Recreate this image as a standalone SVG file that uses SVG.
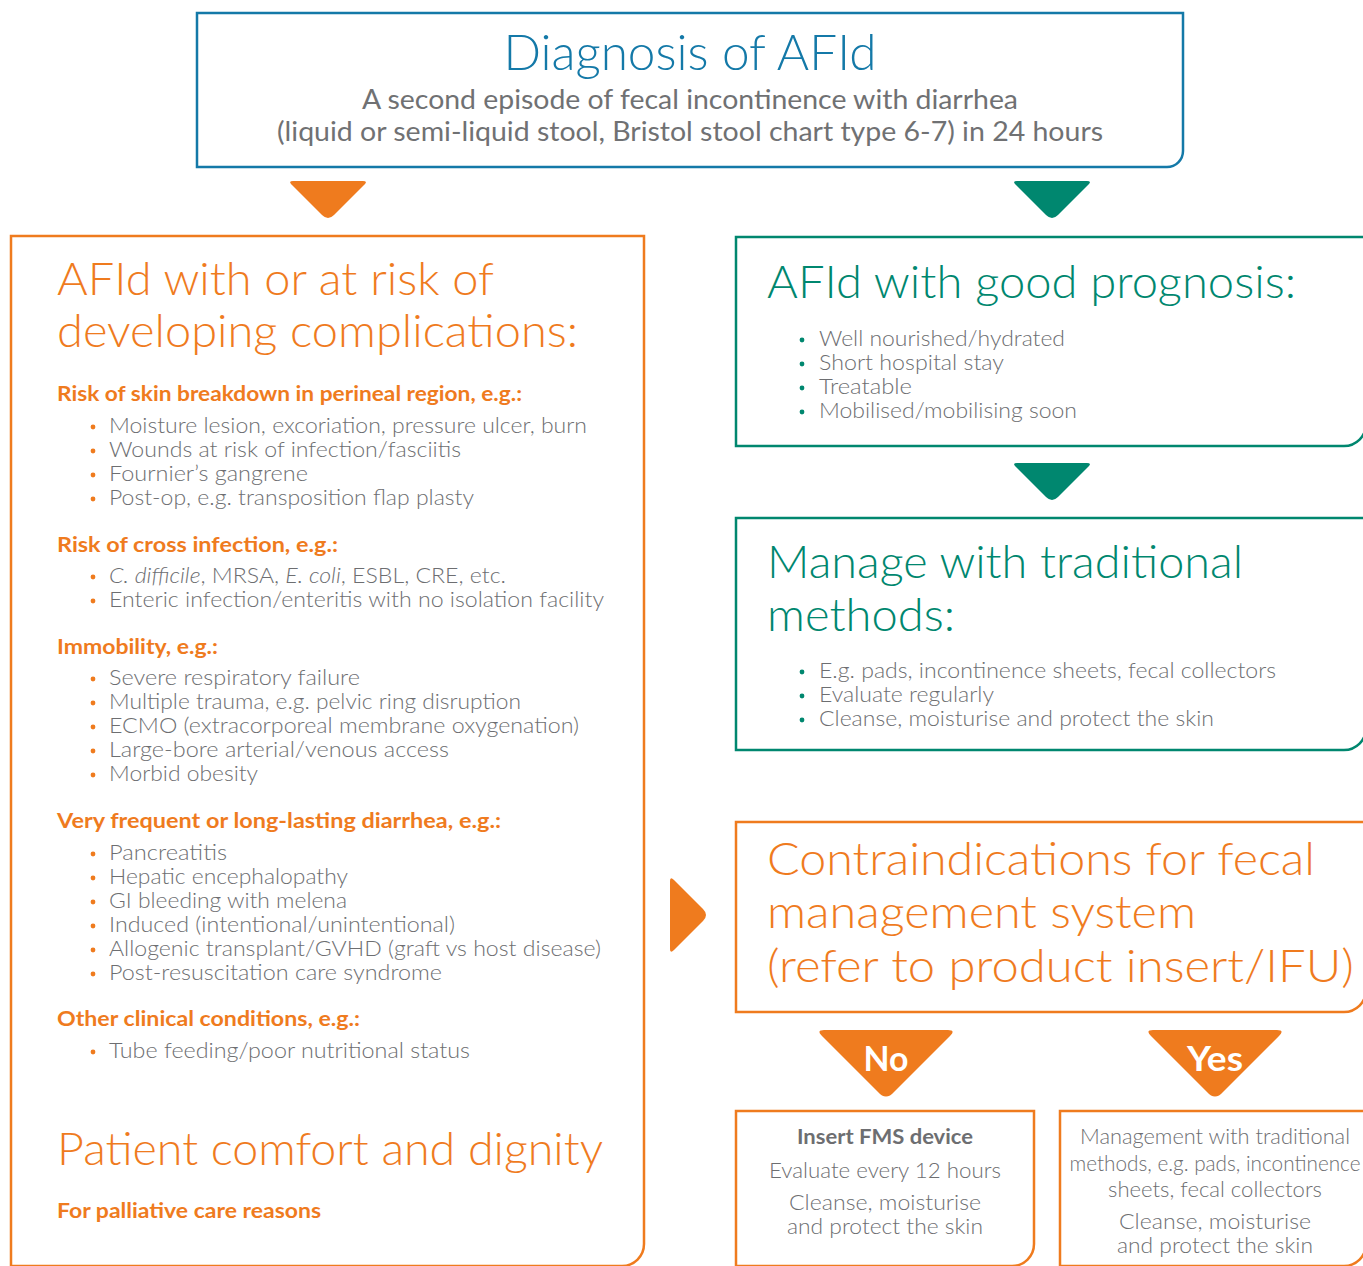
<svg xmlns="http://www.w3.org/2000/svg" width="1363" height="1266" viewBox="0 0 1363 1266">
<style>
  text { font-family: Lato, "Open Sans", "Liberation Sans", sans-serif; }
  .box { fill: none; stroke-width: 2.5; }
  .blue { stroke: #1479a8; }
  .teal { stroke: #00876f; }
  .orange { stroke: #ef7b1e; }
  .ttl-b { fill: #1479a8; font-size: 50px; font-weight: 300; }
  .sub { fill: #707173; font-size: 26px; font-weight: 400; }
  .ttl-o { fill: #ef7b1e; font-size: 46px; font-weight: 300; }
  .ttl-t { fill: #00876f; font-size: 46px; font-weight: 300; }
  .hd { fill: #ef7b1e; font-size: 20px; font-weight: 700; }
  .li { fill: #6d6e71; font-size: 21px; font-weight: 300; }
  .sm { fill: #6d6e71; font-size: 21px; font-weight: 300; text-anchor: middle; }
  .smb { fill: #6d6e71; font-size: 20px; font-weight: 700; text-anchor: middle; }
  .yn { fill: #ffffff; font-size: 34px; font-weight: 700; text-anchor: middle; }
  .dot-o { fill: #ef7b1e; }
  .dot-t { fill: #00876f; }
  .arr-o { fill: #ef7b1e; }
  .arr-t { fill: #00876f; }
</style>

<g id="connectors">
  <path class="arr-o" d="M293,181 H363 Q368,181 364.5,184.5 L334,215 Q328,221 322,215 L291.5,184.5 Q288,181 293,181 Z"/>
  <path class="arr-t" d="M1017,181 H1087 Q1092,181 1088.5,184.5 L1058,215 Q1052,221 1046,215 L1015.5,184.5 Q1012,181 1017,181 Z"/>
  <path class="arr-t" d="M1017,463 H1087 Q1092,463 1088.5,466.5 L1058,497 Q1052,503 1046,497 L1015.5,466.5 Q1012,463 1017,463 Z"/>
  <path class="arr-o" d="M670,881 Q670,876 674,880 L703,909 Q709,915 703,921 L674,950 Q670,954 670,949 Z"/>
</g>

<g id="diagnosis">
  <path class="box blue" d="M197,13 H1183 V151 A16,16 0 0 1 1167,167 H197 Z"/>
  <text class="ttl-b" x="690" y="70" text-anchor="middle" textLength="373" lengthAdjust="spacingAndGlyphs">Diagnosis of AFId</text>
  <text class="sub" x="690" y="109" text-anchor="middle" textLength="656" lengthAdjust="spacingAndGlyphs">A second episode of fecal incontinence with diarrhea</text>
  <text class="sub" x="690" y="141" text-anchor="middle" textLength="826" lengthAdjust="spacingAndGlyphs">(liquid or semi-liquid stool, Bristol stool chart type 6-7) in 24 hours</text>
</g>

<g id="complications">
  <path class="box orange" d="M11,236 H644 V1244 A22,22 0 0 1 622,1266 H11 Z"/>
  <text class="ttl-o" x="57" y="295" textLength="437" lengthAdjust="spacingAndGlyphs">AFId with or at risk of</text>
  <text class="ttl-o" x="57" y="347" textLength="521" lengthAdjust="spacingAndGlyphs">developing complications:</text>

  <text class="hd" x="57" y="401" textLength="465" lengthAdjust="spacingAndGlyphs">Risk of skin breakdown in perineal region, e.g.:</text>
  <circle class="dot-o" cx="93" cy="427" r="2.4"/>
  <circle class="dot-o" cx="93" cy="451" r="2.4"/>
  <circle class="dot-o" cx="93" cy="475" r="2.4"/>
  <circle class="dot-o" cx="93" cy="499" r="2.4"/>
  <text class="li" x="109" y="433" textLength="478" lengthAdjust="spacingAndGlyphs">Moisture lesion, excoriation, pressure ulcer, burn</text>
  <text class="li" x="109" y="457" textLength="352" lengthAdjust="spacingAndGlyphs">Wounds at risk of infection/fasciitis</text>
  <text class="li" x="109" y="481" textLength="199" lengthAdjust="spacingAndGlyphs">Fournier’s gangrene</text>
  <text class="li" x="109" y="505" textLength="365" lengthAdjust="spacingAndGlyphs">Post-op, e.g. transposition flap plasty</text>

  <text class="hd" x="57" y="552" textLength="281" lengthAdjust="spacingAndGlyphs">Risk of cross infection, e.g.:</text>
  <circle class="dot-o" cx="93" cy="577" r="2.4"/>
  <circle class="dot-o" cx="93" cy="601" r="2.4"/>
  <text class="li" x="109" y="583" textLength="397" lengthAdjust="spacingAndGlyphs"><tspan font-style="italic">C. difficile</tspan>, MRSA, <tspan font-style="italic">E. coli</tspan>, ESBL, CRE, etc.</text>
  <text class="li" x="109" y="607" textLength="495" lengthAdjust="spacingAndGlyphs">Enteric infection/enteritis with no isolation facility</text>

  <text class="hd" x="57" y="654" textLength="161" lengthAdjust="spacingAndGlyphs">Immobility, e.g.:</text>
  <circle class="dot-o" cx="93" cy="679" r="2.4"/>
  <circle class="dot-o" cx="93" cy="703" r="2.4"/>
  <circle class="dot-o" cx="93" cy="727" r="2.4"/>
  <circle class="dot-o" cx="93" cy="751" r="2.4"/>
  <circle class="dot-o" cx="93" cy="775" r="2.4"/>
  <text class="li" x="109" y="685" textLength="251" lengthAdjust="spacingAndGlyphs">Severe respiratory failure</text>
  <text class="li" x="109" y="709" textLength="412" lengthAdjust="spacingAndGlyphs">Multiple trauma, e.g. pelvic ring disruption</text>
  <text class="li" x="109" y="733" textLength="470" lengthAdjust="spacingAndGlyphs">ECMO (extracorporeal membrane oxygenation)</text>
  <text class="li" x="109" y="757" textLength="340" lengthAdjust="spacingAndGlyphs">Large-bore arterial/venous access</text>
  <text class="li" x="109" y="781" textLength="149" lengthAdjust="spacingAndGlyphs">Morbid obesity</text>

  <text class="hd" x="57" y="828" textLength="444" lengthAdjust="spacingAndGlyphs">Very frequent or long-lasting diarrhea, e.g.:</text>
  <circle class="dot-o" cx="93" cy="854" r="2.4"/>
  <circle class="dot-o" cx="93" cy="878" r="2.4"/>
  <circle class="dot-o" cx="93" cy="902" r="2.4"/>
  <circle class="dot-o" cx="93" cy="926" r="2.4"/>
  <circle class="dot-o" cx="93" cy="950" r="2.4"/>
  <circle class="dot-o" cx="93" cy="974" r="2.4"/>
  <text class="li" x="109" y="860" textLength="118" lengthAdjust="spacingAndGlyphs">Pancreatitis</text>
  <text class="li" x="109" y="884" textLength="239" lengthAdjust="spacingAndGlyphs">Hepatic encephalopathy</text>
  <text class="li" x="109" y="908" textLength="238" lengthAdjust="spacingAndGlyphs">GI bleeding with melena</text>
  <text class="li" x="109" y="932" textLength="346" lengthAdjust="spacingAndGlyphs">Induced (intentional/unintentional)</text>
  <text class="li" x="109" y="956" textLength="492" lengthAdjust="spacingAndGlyphs">Allogenic transplant/GVHD (graft vs host disease)</text>
  <text class="li" x="109" y="980" textLength="333" lengthAdjust="spacingAndGlyphs">Post-resuscitation care syndrome</text>

  <text class="hd" x="57" y="1026" textLength="303" lengthAdjust="spacingAndGlyphs">Other clinical conditions, e.g.:</text>
  <circle class="dot-o" cx="93" cy="1052" r="2.4"/>
  <text class="li" x="109" y="1058" textLength="361" lengthAdjust="spacingAndGlyphs">Tube feeding/poor nutritional status</text>

  <text class="ttl-o" x="57" y="1165" textLength="546" lengthAdjust="spacingAndGlyphs">Patient comfort and dignity</text>
  <text class="hd" x="57" y="1218" textLength="264" lengthAdjust="spacingAndGlyphs">For palliative care reasons</text>
</g>

<g id="good-prognosis">
  <path class="box teal" d="M736,237 H1366 V424 A22,22 0 0 1 1344,446 H736 Z"/>
  <text class="ttl-t" x="767" y="298" textLength="529" lengthAdjust="spacingAndGlyphs">AFId with good prognosis:</text>
  <circle class="dot-t" cx="802" cy="340" r="2.4"/>
  <circle class="dot-t" cx="802" cy="364" r="2.4"/>
  <circle class="dot-t" cx="802" cy="388" r="2.4"/>
  <circle class="dot-t" cx="802" cy="412" r="2.4"/>
  <text class="li" x="819" y="346" textLength="246" lengthAdjust="spacingAndGlyphs">Well nourished/hydrated</text>
  <text class="li" x="819" y="370" textLength="185" lengthAdjust="spacingAndGlyphs">Short hospital stay</text>
  <text class="li" x="819" y="394" textLength="93" lengthAdjust="spacingAndGlyphs">Treatable</text>
  <text class="li" x="819" y="418" textLength="258" lengthAdjust="spacingAndGlyphs">Mobilised/mobilising soon</text>
</g>

<g id="traditional">
  <path class="box teal" d="M736,518 H1366 V728 A22,22 0 0 1 1344,750 H736 Z"/>
  <text class="ttl-t" x="767" y="578" textLength="476" lengthAdjust="spacingAndGlyphs">Manage with traditional</text>
  <text class="ttl-t" x="767" y="631" textLength="188" lengthAdjust="spacingAndGlyphs">methods:</text>
  <circle class="dot-t" cx="802" cy="672" r="2.4"/>
  <circle class="dot-t" cx="802" cy="696" r="2.4"/>
  <circle class="dot-t" cx="802" cy="720" r="2.4"/>
  <text class="li" x="819" y="678" textLength="457" lengthAdjust="spacingAndGlyphs">E.g. pads, incontinence sheets, fecal collectors</text>
  <text class="li" x="819" y="702" textLength="175" lengthAdjust="spacingAndGlyphs">Evaluate regularly</text>
  <text class="li" x="819" y="726" textLength="395" lengthAdjust="spacingAndGlyphs">Cleanse, moisturise and protect the skin</text>
</g>

<g id="contraindications">
  <path class="box orange" d="M736,822 H1366 V990 A22,22 0 0 1 1344,1012 H736 Z"/>
  <text class="ttl-o" x="767" y="875" textLength="548" lengthAdjust="spacingAndGlyphs">Contraindications for fecal</text>
  <text class="ttl-o" x="767" y="928" textLength="429" lengthAdjust="spacingAndGlyphs">management system</text>
  <text class="ttl-o" x="767" y="982" textLength="587" lengthAdjust="spacingAndGlyphs">(refer to product insert/IFU)</text>
</g>

<g id="no">
  <path class="arr-o" d="M824,1030 H948 Q956,1030 950,1036 L894,1092 Q886,1101 878,1092 L822,1036 Q816,1030 824,1030 Z"/>
  <text class="yn" x="886" y="1071" textLength="45" lengthAdjust="spacingAndGlyphs">No</text>
</g>

<g id="yes">
  <path class="arr-o" d="M1153,1030 H1277 Q1285,1030 1279,1036 L1223,1092 Q1215,1101 1207,1092 L1151,1036 Q1145,1030 1153,1030 Z"/>
  <text class="yn" x="1215" y="1071" textLength="56" lengthAdjust="spacingAndGlyphs">Yes</text>
</g>

<g id="insert-fms">
  <path class="box orange" d="M736,1111 H1034 V1244 A22,22 0 0 1 1012,1266 H736 Z"/>
  <text class="smb" x="885" y="1144" textLength="176" lengthAdjust="spacingAndGlyphs">Insert FMS device</text>
  <text class="sm" x="885" y="1178" textLength="232" lengthAdjust="spacingAndGlyphs">Evaluate every 12 hours</text>
  <text class="sm" x="885" y="1210" textLength="192" lengthAdjust="spacingAndGlyphs">Cleanse, moisturise</text>
  <text class="sm" x="885" y="1234" textLength="196" lengthAdjust="spacingAndGlyphs">and protect the skin</text>
</g>

<g id="manage-traditional">
  <path class="box orange" d="M1060,1111 H1366 V1244 A22,22 0 0 1 1344,1266 H1060 Z"/>
  <text class="sm" x="1215" y="1144" textLength="270" lengthAdjust="spacingAndGlyphs">Management with traditional</text>
  <text class="sm" x="1215" y="1171" textLength="291" lengthAdjust="spacingAndGlyphs">methods, e.g. pads, incontinence</text>
  <text class="sm" x="1215" y="1197" textLength="214" lengthAdjust="spacingAndGlyphs">sheets, fecal collectors</text>
  <text class="sm" x="1215" y="1229" textLength="192" lengthAdjust="spacingAndGlyphs">Cleanse, moisturise</text>
  <text class="sm" x="1215" y="1253" textLength="196" lengthAdjust="spacingAndGlyphs">and protect the skin</text>
</g>
</svg>
